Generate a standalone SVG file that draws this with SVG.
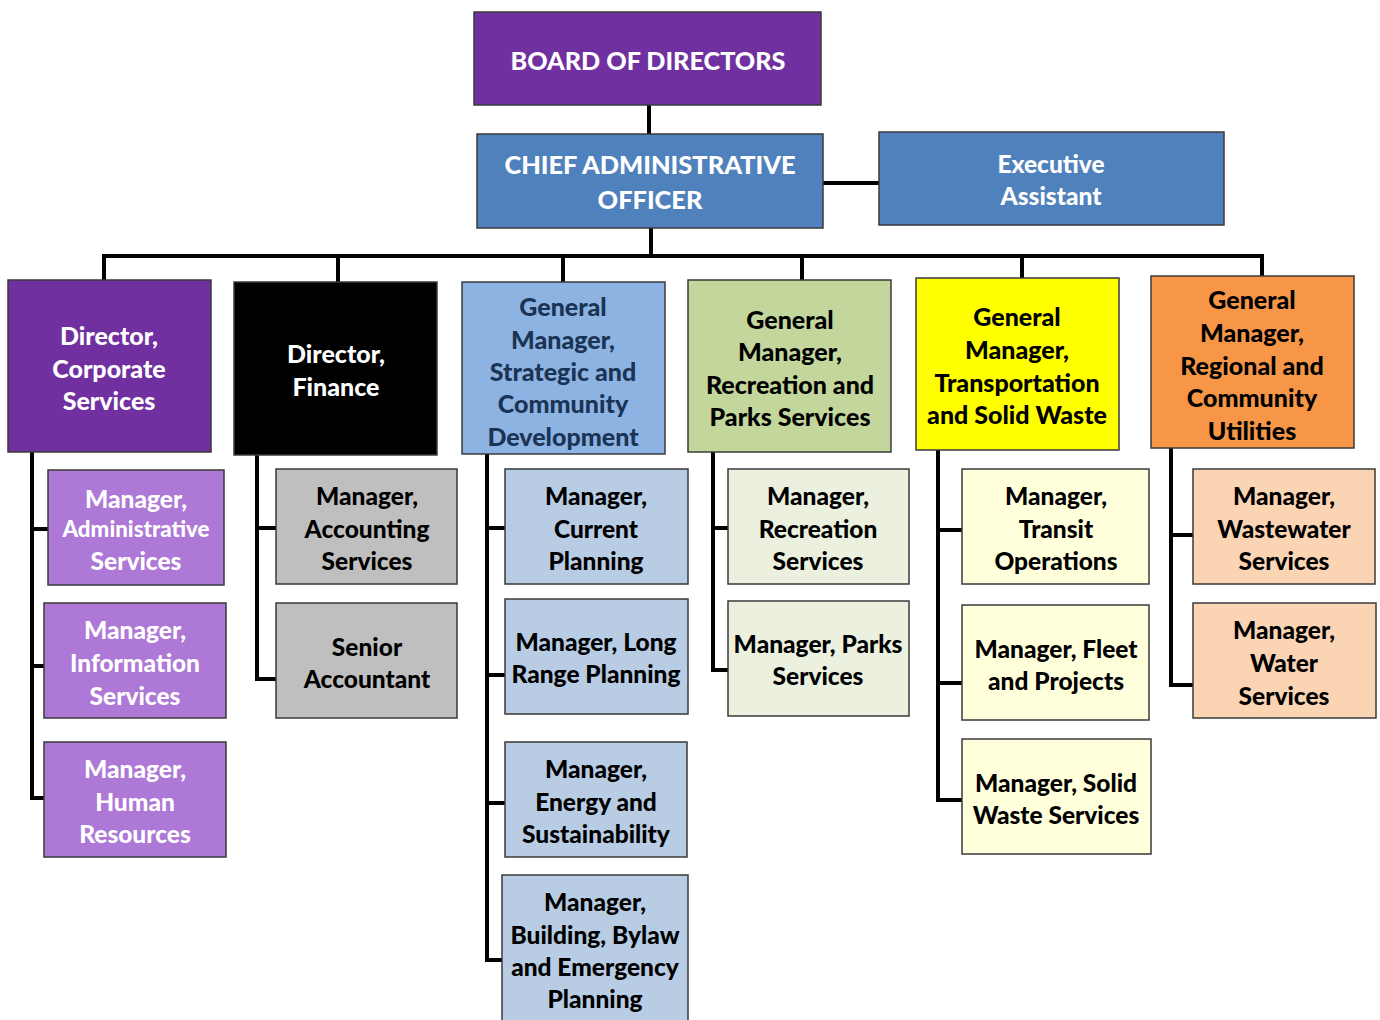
<svg xmlns="http://www.w3.org/2000/svg" width="1380" height="1020" viewBox="0 0 1380 1020">
  <style>
    .box { stroke: #3a3a3a; stroke-width: 1.5; }
    .t { font-family: Lato, "Open Sans", sans-serif; font-weight: 900; font-size: 24.5px; text-anchor: middle; dominant-baseline: central; }
    .h { font-size: 25px; }
    .w { fill: #ffffff; }
    .k { fill: #000000; }
    .n { fill: #1b3355; }
    .wire { fill: none; stroke: #000000; stroke-width: 4; }
  </style>

  <g id="connectors">
    <path class="wire" d="M649 105 V134"/>
    <path class="wire" d="M823 183 H879"/>
    <path class="wire" d="M651 228 V256"/>
    <path class="wire" d="M102 256 H1264"/>
    <path class="wire" d="M104 254 V280 M338 254 V282 M563 254 V282 M802 254 V280 M1022 254 V278 M1262 254 V276"/>
    <!-- corporate services -->
    <path class="wire" d="M32 452 V798 H44 M32 529 H48 M32 666 H44"/>
    <!-- finance -->
    <path class="wire" d="M257 455 V679 H276 M257 528 H276"/>
    <!-- strategic and community development -->
    <path class="wire" d="M487 454 V960 H502 M487 528 H505 M487 675 H505 M487 803 H505"/>
    <!-- recreation and parks -->
    <path class="wire" d="M713 452 V670 H728 M713 528 H728"/>
    <!-- transportation and solid waste -->
    <path class="wire" d="M938 450 V800 H962 M938 530 H962 M938 683 H962"/>
    <!-- regional and community utilities -->
    <path class="wire" d="M1171 448 V685 H1193 M1171 535 H1193"/>
  </g>

  <g id="board">
    <rect class="box" x="474" y="12" width="347" height="93" fill="#7030a0"/>
    <text class="t w" x="648" y="60" style="font-size:25.2px">BOARD OF DIRECTORS</text>
  </g>
  <g id="cao">
    <rect class="box" x="477" y="134" width="346" height="94" fill="#4f81bd"/>
    <text class="t w" x="650" y="164" style="font-size:25.4px">CHIEF ADMINISTRATIVE</text>
    <text class="t w" x="650" y="199" style="font-size:25.4px">OFFICER</text>
  </g>
  <g id="exec-assistant">
    <rect class="box" x="879" y="132" width="345" height="93" fill="#4f81bd"/>
    <text class="t w" x="1051" y="163">Executive</text>
    <text class="t w" x="1051" y="195">Assistant</text>
  </g>

  <g id="dir-corporate">
    <rect class="box" x="8" y="280" width="203" height="172" fill="#7030a0"/>
    <text class="t h w" x="109" y="335">Director,</text>
    <text class="t h w" x="109" y="368">Corporate</text>
    <text class="t h w" x="109" y="400">Services</text>
  </g>
  <g id="dir-finance">
    <rect class="box" x="234" y="282" width="203" height="173" fill="#000000"/>
    <text class="t h w" x="336" y="353">Director,</text>
    <text class="t h w" x="336" y="386">Finance</text>
  </g>
  <g id="gm-strategic">
    <rect class="box" x="462" y="282" width="203" height="172" fill="#8db3e2"/>
    <text class="t h n" x="563" y="306">General</text>
    <text class="t h n" x="563" y="339">Manager,</text>
    <text class="t h n" x="563" y="371">Strategic and</text>
    <text class="t h n" x="563" y="403">Community</text>
    <text class="t h n" x="563" y="436">Development</text>
  </g>
  <g id="gm-recreation">
    <rect class="box" x="688" y="280" width="203" height="172" fill="#c3d69b"/>
    <text class="t h k" x="790" y="319">General</text>
    <text class="t h k" x="790" y="351">Manager,</text>
    <text class="t h k" x="790" y="384">Recreation and</text>
    <text class="t h k" x="790" y="416">Parks Services</text>
  </g>
  <g id="gm-transportation">
    <rect class="box" x="916" y="278" width="203" height="172" fill="#ffff00"/>
    <text class="t h k" x="1017" y="316">General</text>
    <text class="t h k" x="1017" y="349">Manager,</text>
    <text class="t h k" x="1017" y="382">Transportation</text>
    <text class="t h k" x="1017" y="414">and Solid Waste</text>
  </g>
  <g id="gm-regional">
    <rect class="box" x="1151" y="276" width="203" height="172" fill="#f79646"/>
    <text class="t h k" x="1252" y="299">General</text>
    <text class="t h k" x="1252" y="332">Manager,</text>
    <text class="t h k" x="1252" y="365">Regional and</text>
    <text class="t h k" x="1252" y="397">Community</text>
    <text class="t h k" x="1252" y="430">Utilities</text>
  </g>

  <g id="mgr-admin">
    <rect class="box" x="48" y="470" width="176" height="115" fill="#ad78d6"/>
    <text class="t w" x="136" y="498">Manager,</text>
    <text class="t w" x="136" y="528" style="font-size:22.3px">Administrative</text>
    <text class="t w" x="136" y="560">Services</text>
  </g>
  <g id="mgr-information">
    <rect class="box" x="44" y="603" width="182" height="115" fill="#ad78d6"/>
    <text class="t w" x="135" y="629">Manager,</text>
    <text class="t w" x="135" y="662">Information</text>
    <text class="t w" x="135" y="695">Services</text>
  </g>
  <g id="mgr-human">
    <rect class="box" x="44" y="742" width="182" height="115" fill="#ad78d6"/>
    <text class="t w" x="135" y="768">Manager,</text>
    <text class="t w" x="135" y="801">Human</text>
    <text class="t w" x="135" y="833">Resources</text>
  </g>

  <g id="mgr-accounting">
    <rect class="box" x="276" y="469" width="181" height="115" fill="#bfbfbf"/>
    <text class="t k" x="367" y="495">Manager,</text>
    <text class="t k" x="367" y="528">Accounting</text>
    <text class="t k" x="367" y="560">Services</text>
  </g>
  <g id="senior-accountant">
    <rect class="box" x="276" y="603" width="181" height="115" fill="#bfbfbf"/>
    <text class="t k" x="367" y="646">Senior</text>
    <text class="t k" x="367" y="678">Accountant</text>
  </g>

  <g id="mgr-current-planning">
    <rect class="box" x="505" y="469" width="183" height="115" fill="#b8cce4"/>
    <text class="t k" x="596" y="495">Manager,</text>
    <text class="t k" x="596" y="528">Current</text>
    <text class="t k" x="596" y="560">Planning</text>
  </g>
  <g id="mgr-long-range">
    <rect class="box" x="505" y="599" width="183" height="115" fill="#b8cce4"/>
    <text class="t k" x="596" y="641">Manager, Long</text>
    <text class="t k" x="596" y="673">Range Planning</text>
  </g>
  <g id="mgr-energy">
    <rect class="box" x="505" y="742" width="182" height="115" fill="#b8cce4"/>
    <text class="t k" x="596" y="768">Manager,</text>
    <text class="t k" x="596" y="801">Energy and</text>
    <text class="t k" x="596" y="833">Sustainability</text>
  </g>
  <g id="mgr-building">
    <rect class="box" x="502" y="875" width="186" height="150" fill="#b8cce4"/>
    <text class="t k" x="595" y="901">Manager,</text>
    <text class="t k" x="595" y="934">Building, Bylaw</text>
    <text class="t k" x="595" y="966">and Emergency</text>
    <text class="t k" x="595" y="998">Planning</text>
  </g>

  <g id="mgr-recreation">
    <rect class="box" x="728" y="469" width="181" height="115" fill="#ebf1de"/>
    <text class="t k" x="818" y="495">Manager,</text>
    <text class="t k" x="818" y="528">Recreation</text>
    <text class="t k" x="818" y="560">Services</text>
  </g>
  <g id="mgr-parks">
    <rect class="box" x="728" y="601" width="181" height="115" fill="#ebf1de"/>
    <text class="t k" x="818" y="643">Manager, Parks</text>
    <text class="t k" x="818" y="675">Services</text>
  </g>

  <g id="mgr-transit">
    <rect class="box" x="962" y="469" width="187" height="115" fill="#ffffdc"/>
    <text class="t k" x="1056" y="495">Manager,</text>
    <text class="t k" x="1056" y="528">Transit</text>
    <text class="t k" x="1056" y="560">Operations</text>
  </g>
  <g id="mgr-fleet">
    <rect class="box" x="962" y="605" width="187" height="115" fill="#ffffdc"/>
    <text class="t k" x="1056" y="648">Manager, Fleet</text>
    <text class="t k" x="1056" y="680">and Projects</text>
  </g>
  <g id="mgr-solid-waste">
    <rect class="box" x="962" y="739" width="189" height="115" fill="#ffffdc"/>
    <text class="t k" x="1056" y="782">Manager, Solid</text>
    <text class="t k" x="1056" y="814">Waste Services</text>
  </g>

  <g id="mgr-wastewater">
    <rect class="box" x="1193" y="469" width="182" height="115" fill="#fbd4b4"/>
    <text class="t k" x="1284" y="495">Manager,</text>
    <text class="t k" x="1284" y="528">Wastewater</text>
    <text class="t k" x="1284" y="560">Services</text>
  </g>
  <g id="mgr-water">
    <rect class="box" x="1193" y="603" width="183" height="115" fill="#fbd4b4"/>
    <text class="t k" x="1284" y="629">Manager,</text>
    <text class="t k" x="1284" y="662">Water</text>
    <text class="t k" x="1284" y="695">Services</text>
  </g>
</svg>
